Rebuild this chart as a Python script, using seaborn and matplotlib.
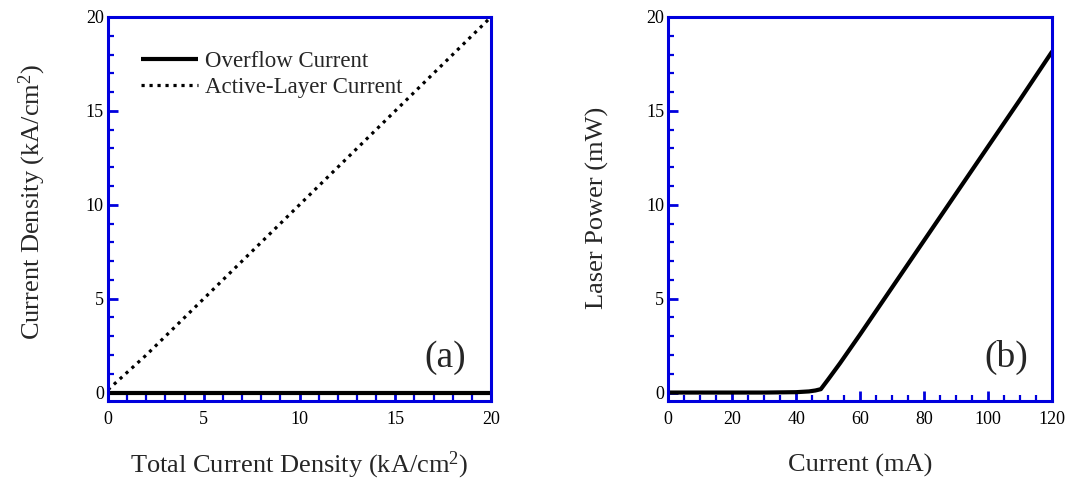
import numpy as np
import pandas as pd
import matplotlib
matplotlib.use("Agg")
import matplotlib.pyplot as plt
from matplotlib.ticker import MultipleLocator
import seaborn as sns

# ---- data ----
total_density = [0, 2, 4, 6, 8, 10, 12, 14, 16, 18, 20]
overflow_current = [0, 0, 0, 0, 0, 0, 0, 0, 0, 0, 0]
active_current = [0.15, 2, 4, 6, 8, 10, 12, 14, 16, 18, 20]

current_mA = [0, 10, 20, 30, 40, 44, 46, 47.7, 50, 53.7, 60, 70, 80, 90, 100, 110, 120]
laser_power = [0, 0, 0, 0, 0.02, 0.06, 0.11, 0.18, 0.7, 1.56, 3.1, 5.6, 8.1, 10.6, 13.1, 15.6, 18.15]

xticks_a = [0, 5, 10, 15, 20]
xticks_b = [0, 20, 40, 60, 80, 100, 120]
yticks = [0, 5, 10, 15, 20]

sns.set_theme(style="ticks")
plt.rcParams['font.family'] = ['Liberation Serif', 'DejaVu Serif']
plt.rcParams['mathtext.fontset'] = 'custom'
plt.rcParams['mathtext.rm'] = 'Liberation Serif'
plt.rcParams['mathtext.it'] = 'Liberation Serif:italic'

BLUE = '#0000DD'

fig = plt.figure(figsize=(10.68, 4.79), dpi=100)
ax1 = fig.add_axes([108/1068, 1-401/479, 383/1068, 384/479])
ax2 = fig.add_axes([668.3/1068, 1-401/479, 383.7/1068, 384/479])

df_a = pd.DataFrame({'x': total_density, 'over': overflow_current, 'act': active_current})
df_b = pd.DataFrame({'x': current_mA, 'p': laser_power})

sns.lineplot(data=df_a, x='x', y='over', ax=ax1, color='black', lw=3.0,
             label='Overflow Current', solid_capstyle='butt')
sns.lineplot(data=df_a, x='x', y='act', ax=ax1, color='black', lw=2.3,
             label='Active-Layer Current')
ax1.lines[1].set_linestyle((0, (1.0, 1.5)))
ax1.lines[1].set_dash_capstyle('butt')

sns.lineplot(data=df_b, x='x', y='p', ax=ax2, color='black', lw=3.0)

for ax, xt, minor_x, xl, yl, tag, ly in [
    (ax1, xticks_a, 1, r'Total Current Density (kA/cm$^2$)', r'Current Density (kA/cm$^2$)', '(a)', 0.517),
    (ax2, xticks_b, 5, 'Current (mA)', 'Laser Power (mW)', '(b)', 0.504),
]:
    ax.set_ylim(-0.45, 20)
    ax.set_xlim(xt[0], xt[-1])
    ax.set_xticks(xt)
    ax.set_yticks(yticks)
    ax.set_xticklabels([str(v) for v in xt])
    ax.set_yticklabels([str(v) for v in yticks])
    ax.xaxis.set_minor_locator(MultipleLocator(minor_x))
    ax.yaxis.set_minor_locator(MultipleLocator(1))
    ax.tick_params(which='both', direction='in', color=BLUE, top=False, right=False,
                   labelsize=13, labelcolor='black')
    ax.tick_params(which='major', length=7.5, width=2.0)
    ax.tick_params(which='minor', length=4, width=1.6)
    ax.tick_params(axis='x', which='both', pad=7)
    ax.tick_params(axis='y', which='both', pad=3)
    for s in ax.spines.values():
        s.set_visible(True)
        s.set_color(BLUE)
        s.set_linewidth(2.2)
    ax.set_xlabel(xl, fontsize=19, va='baseline')
    ax.xaxis.set_label_coords(0.5, (401 - 472) / 384)
    ax.set_ylabel(yl, fontsize=19, labelpad=27)
    ax.yaxis.label.set_y(ly)
    ax.text(0.88, 0.113, tag, transform=ax.transAxes, fontsize=27,
            ha='center', va='center')
    ax.grid(False)

leg = ax1.legend(loc='upper left', bbox_to_anchor=(0.062, 0.935), frameon=False,
                 fontsize=16.5, handlelength=2.5, handletextpad=0.3,
                 labelspacing=0.2, borderaxespad=0.0)
if ax2.get_legend() is not None:
    ax2.get_legend().remove()

fig.savefig('out.png', dpi=100)
